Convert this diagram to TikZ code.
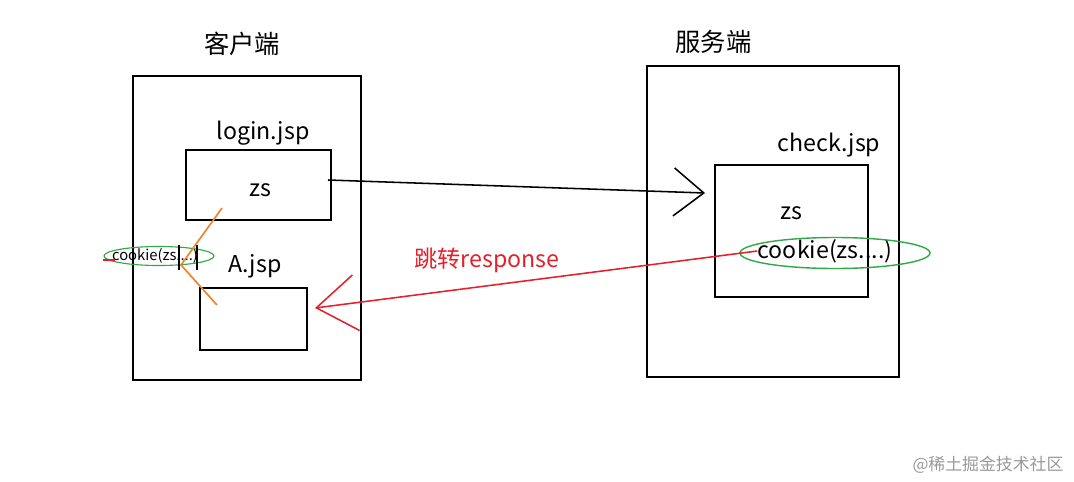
\documentclass[tikz,border=0pt]{standalone}
\usepackage{fontspec}
\setmainfont{Noto Sans CJK SC}
\usetikzlibrary{positioning,arrows.meta,shapes.geometric}
\definecolor{redline}{RGB}{228,32,44}
\definecolor{greenline}{RGB}{46,168,72}
\definecolor{orangeline}{RGB}{238,132,46}

\begin{document}
\begin{tikzpicture}[x=0.025cm, y=-0.025cm,
    box/.style={draw, line width=1.4pt, inner sep=0pt},
    lbl/.style={inner sep=0pt, font=\fontsize{16.5}{20}\selectfont},
    head/.style={inner sep=0pt, font=\fontsize{18}{21}\selectfont}
]
    \useasboundingbox (0,0) rectangle (1074,481);
    % Client
    \node [box,
        minimum width=5.7cm,
        minimum height=7.6cm
    ]  (Client) at (247,228) {};
    \node [head] (ClientTitle) at (242,44) {客户端};
    \node [box,
        minimum width=3.625cm,
        minimum height=1.75cm
    ]  (Login) at (258.5,185) {};
    \node [lbl] (LoginName) at (263,133) {login.jsp};
    \node [lbl] (LoginZs) at (260,190) {zs};
    \node [box,
        minimum width=2.675cm,
        minimum height=1.55cm
    ]  (PageA) at (253.5,319) {};
    \node [lbl] (PageAName) at (255,266) {A.jsp};
    % Server
    \node [box,
        minimum width=6.3cm,
        minimum height=7.775cm
    ]  (Server) at (773,221.5) {};
    \node [head] (ServerTitle) at (713.5,42) {服务端};
    \node [box,
        minimum width=3.825cm,
        minimum height=3.3cm
    ]  (Check) at (791.5,231) {};
    \node [lbl] (CheckName) at (829,145) {check.jsp};
    \node [lbl] (CheckZs) at (791,213) {zs};
    \node [lbl] (Cookie) at (825,251) {cookie(zs....)};
    \node [draw=greenline, line width=1pt, ellipse,
        minimum width=4.75cm,
        minimum height=0.775cm
    ]  (CookieRing) at (835,253) {};
    % cookie kept on the client
    \node [inner sep=0pt, font=\fontsize{10.5}{12}\selectfont] (Tag) at (155,256) {cookie(zs....)};
    \node [draw=greenline, line width=0.8pt, ellipse,
        minimum width=2.75cm,
        minimum height=0.475cm
    ]  (TagRing) at (159,256) {};
    \draw[redline, line width=0.8pt] (103,260) -- (115,260);
    \draw[line width=0.9pt] (179,245) -- (179,270);
    \draw[line width=0.9pt] (197,245) -- (197,270);
    \coordinate (OrTop) at (222,208);
    \coordinate (OrMid) at (181,265);
    \coordinate (OrBot) at (217,305);
    \draw[orangeline, line width=1.2pt] (OrTop) -- (OrMid) -- (OrBot);
    % request
    \coordinate (CheckIn) at (705,193);
    \draw[line width=1.1pt, -{Straight Barb[length=0.75cm, width=1.2cm]}]
        ([shift={(-4,-5)}]Login.east) -- (CheckIn);
    % response
    \coordinate (AIn) at (315,308);
    \draw[redline, line width=1.1pt, -{Straight Barb[length=1cm, width=1.4cm]}]
        (Cookie.west) -- (AIn);
    \node [lbl, text=redline] (Jump) at (487,260) {跳转response};

    \node [inner sep=0pt, text=black!40, font=\fontsize{12}{14}\selectfont] (Mark) at (988,465) {@稀土掘金技术社区};
\end{tikzpicture}
\end{document}
